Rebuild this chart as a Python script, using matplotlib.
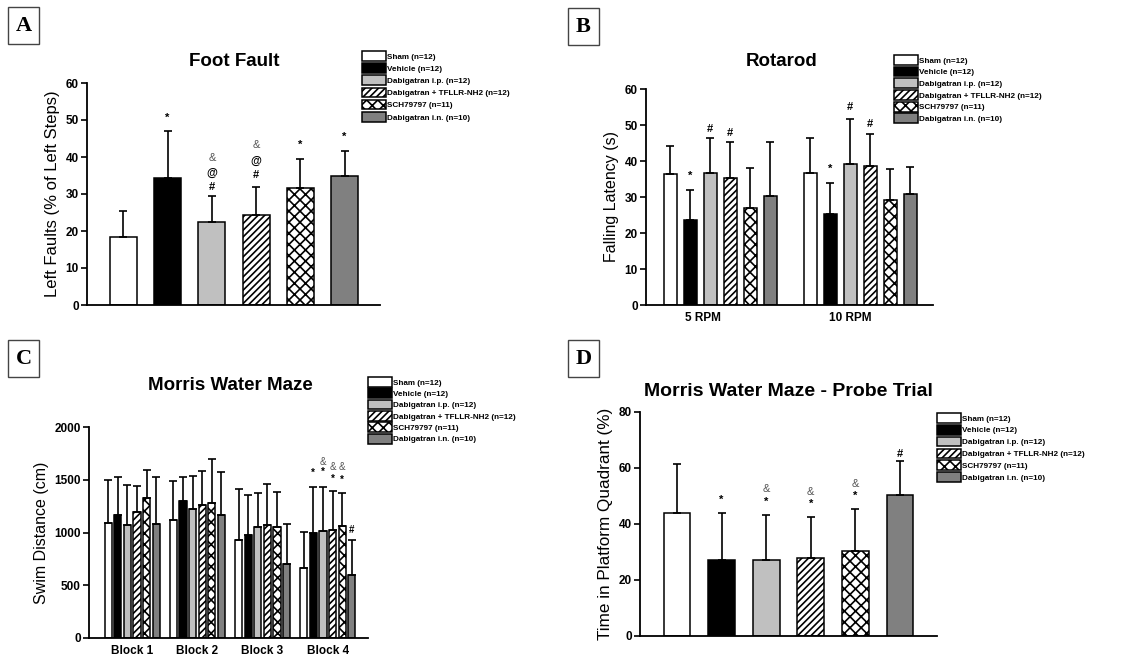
import numpy as np
import matplotlib
matplotlib.use("Agg")
import matplotlib.pyplot as plt
from matplotlib.patches import Patch, Rectangle

plt.rcParams['font.family'] = ['Liberation Sans', 'DejaVu Sans']
plt.rcParams['hatch.linewidth'] = 1.2

W, H = 1137, 656

# grupos
groups = ["Sham (n=12)", "Vehicle (n=12)", "Dabigatran i.p. (n=12)",
          "Dabigatran + TFLLR-NH2 (n=12)", "SCH79797 (n=11)", "Dabigatran i.n. (n=10)"]
faces = ["white", "black", "#c0c0c0", "white", "white", "#808080"]
hatches = [None, None, None, "/////", "xxx", None]

# A - Foot Fault
ff_mean = [18.5, 34.2, 22.5, 24.3, 31.5, 34.8]
ff_err = [7.0, 12.8, 7.0, 7.7, 8.0, 6.7]
ff_marks = [[], [("*", 50.5)], [("#", 32.0), ("@", 35.6), ("&", 39.6)],
            [("#", 35.1), ("@", 38.9), ("&", 43.2)], [("*", 43.2)], [("*", 45.5)]]

# B - Rotarod
rpm_labels = ["5 RPM", "10 RPM"]
rot_mean = [[36.5, 23.5, 36.8, 35.3, 27.0, 30.3],
            [36.7, 25.3, 39.3, 38.6, 29.2, 30.8]]
rot_err = [[7.7, 8.5, 9.5, 10.0, 11.0, 15.0],
           [9.8, 8.7, 12.4, 8.9, 8.6, 7.5]]
rot_marks = [[[], [("*", 35.8)], [("#", 48.8)], [("#", 47.7)], [], []],
             [[], [("*", 37.7)], [("#", 54.9)], [("#", 50.3)], [], []]]

# C - Morris Water Maze
blocks = ["Block 1", "Block 2", "Block 3", "Block 4"]
mwm_mean = [[1090, 1170, 1075, 1190, 1325, 1085],
            [1120, 1295, 1220, 1265, 1275, 1170],
            [925, 980, 1055, 1075, 1050, 700],
            [665, 1000, 1015, 1025, 1060, 600]]
mwm_err = [[405, 360, 375, 255, 270, 445],
           [365, 230, 315, 320, 425, 400],
           [485, 380, 320, 380, 330, 380],
           [340, 435, 415, 365, 310, 330]]
mwm_marks = [[[]] * 6, [[]] * 6, [[]] * 6,
             [[], [("*", 1567)], [("*", 1577), ("&", 1671)],
              [("*", 1504), ("&", 1624)], [("*", 1495), ("&", 1620)], [("#", 1024)]]]

# D - Probe trial
pt_mean = [43.8, 27.0, 27.3, 27.8, 30.5, 50.2]
pt_err = [17.7, 17.0, 15.9, 14.7, 15.0, 12.2]
pt_marks = [[], [("*", 48.6)], [("*", 48.0), ("&", 52.4)],
            [("*", 47.1), ("&", 51.3)], [("*", 50.1), ("&", 54.3)], [("#", 65.0)]]

fig = plt.figure(figsize=(W / 100, H / 100), dpi=100)


def px_axes(left, top, right, bottom):
    return fig.add_axes([left / W, 1 - bottom / H, (right - left) / W, (bottom - top) / H])


def style(ax, ylabel, ylab_size):
    for s in ["top", "right"]:
        ax.spines[s].set_visible(False)
    for s in ["left", "bottom"]:
        ax.spines[s].set_linewidth(1.3)
    ax.tick_params(axis="y", length=4, width=1.2, labelsize=8.5, pad=2)
    ax.tick_params(axis="x", length=0, labelsize=8.5, pad=5)
    for t in ax.get_yticklabels() + ax.get_xticklabels():
        t.set_fontweight("bold")
    ax.set_ylabel(ylabel, fontsize=ylab_size, labelpad=4)


def draw_bars(ax, xs, means, errs, marks, width, fs=8):
    for i, x in enumerate(xs):
        ax.bar(x, means[i], width=width, color=faces[i], edgecolor="black",
               linewidth=1.1, hatch=hatches[i], zorder=2)
        ax.errorbar(x, means[i], yerr=[[0], [errs[i]]], fmt="none", ecolor="black",
                    elinewidth=1.2, capsize=3, capthick=1.2, zorder=3)
        for sym, y in marks[i]:
            col = "#555555" if sym == "&" else "black"
            fw = "normal" if sym == "&" else "bold"
            ax.text(x, y, sym, ha="center", va="center", fontsize=fs, color=col,
                    fontweight=fw, zorder=4)


def legend(x, y, spacing):
    handles = [Patch(facecolor=faces[i], edgecolor="black", hatch=hatches[i], linewidth=1.1)
               for i in range(6)]
    fig.legend(handles, groups, loc="upper left", bbox_to_anchor=(x / W, 1 - y / H),
               frameon=False, prop={"weight": "bold", "size": 5.9},
               handlelength=2.9, handleheight=1.45, handletextpad=0.2,
               labelspacing=spacing, borderpad=0, borderaxespad=0)


def panel_letter(letter, x, y):
    fig.patches.append(Rectangle((x / W, 1 - (y + 37) / H), 31 / W, 37 / H,
                                 transform=fig.transFigure, facecolor="white",
                                 edgecolor="#444444", linewidth=1.0))
    fig.text((x + 15.5) / W, 1 - (y + 19) / H, letter, ha="center", va="center",
             fontsize=16, fontweight="bold", family="Liberation Serif")


# Panel A
axA = px_axes(87, 83, 380, 305)
draw_bars(axA, np.arange(6), ff_mean, ff_err, ff_marks, 0.61)
axA.set_xlim(-0.82, 5.8)
axA.set_ylim(0, 60)
axA.set_yticks(np.arange(0, 61, 10))
axA.set_xticks([])
style(axA, "Left Faults (% of Left Steps)", 12)
fig.text(234 / W, 1 - 62 / H, "Foot Fault", ha="center", va="center",
         fontsize=13.5, fontweight="bold")
legend(362, 51, 0.3)
panel_letter("A", 8, 7)

# Panel B
axB = px_axes(646, 89, 933, 305)
for g in range(2):
    draw_bars(axB, np.arange(6) + 7 * g, rot_mean[g], rot_err[g], rot_marks[g], 0.65)
axB.set_xlim(-1.2, 13.15)
axB.set_ylim(0, 60)
axB.set_yticks(np.arange(0, 61, 10))
axB.set_xticks([1.65, 9.0])
axB.set_xticklabels(rpm_labels)
style(axB, "Falling Latency (s)", 11.5)
fig.text(782 / W, 1 - 61 / H, "Rotarod", ha="center", va="center",
         fontsize=13.5, fontweight="bold")
legend(894, 55, 0.24)
panel_letter("B", 568, 8)

# Panel C
axC = px_axes(89, 427, 368, 638)
for g in range(4):
    draw_bars(axC, np.arange(6) + 6.8 * g, mwm_mean[g], mwm_err[g], mwm_marks[g], 0.75, fs=7)
axC.set_xlim(-2.0, 27.1)
axC.set_ylim(0, 2000)
axC.set_yticks(np.arange(0, 2001, 500))
axC.set_xticks(np.arange(4) * 6.8 + 2.5)
axC.set_xticklabels(blocks)
style(axC, "Swim Distance (cm)", 11.5)
fig.text(230 / W, 1 - 385 / H, "Morris Water Maze", ha="center", va="center",
         fontsize=13.5, fontweight="bold")
legend(368, 377, 0.2)
panel_letter("C", 8, 340)

# Panel D
axD = px_axes(640, 412, 937, 636)
draw_bars(axD, np.arange(6), pt_mean, pt_err, pt_marks, 0.6)
axD.set_xlim(-0.83, 5.83)
axD.set_ylim(0, 80)
axD.set_yticks(np.arange(0, 81, 20))
axD.set_xticks([])
style(axD, "Time in Platform Quadrant (%)", 12.3)
fig.text(788 / W, 1 - 392 / H, "Morris Water Maze - Probe Trial", ha="center", va="center",
         fontsize=14, fontweight="bold")
legend(937, 413, 0.26)
panel_letter("D", 568, 340)

fig.savefig("out.png", dpi=100)
